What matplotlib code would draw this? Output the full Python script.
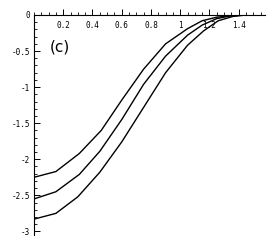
import matplotlib
matplotlib.use("Agg")
import matplotlib.pyplot as plt
from matplotlib.ticker import MultipleLocator, FixedLocator

# Data
x_top = [0, 0.15, 0.31, 0.46, 0.60, 0.75, 0.90, 1.05, 1.15, 1.25, 1.35, 1.45]
y_top = [-2.25, -2.17, -1.92, -1.60, -1.18, -0.75, -0.40, -0.19, -0.08, -0.03, -0.01, 0]
x_mid = [0, 0.15, 0.31, 0.45, 0.60, 0.75, 0.90, 1.05, 1.15, 1.25, 1.35, 1.45]
y_mid = [-2.55, -2.45, -2.21, -1.89, -1.45, -0.96, -0.57, -0.28, -0.14, -0.05, -0.01, 0]
x_bot = [0, 0.15, 0.30, 0.45, 0.60, 0.75, 0.90, 1.05, 1.16, 1.26, 1.36, 1.45]
y_bot = [-2.83, -2.75, -2.52, -2.18, -1.76, -1.28, -0.80, -0.42, -0.22, -0.08, -0.02, 0]

xticks = [0.2, 0.4, 0.6, 0.8, 1.0, 1.2, 1.4]
xticklabels = ["0.2", "0.4", "0.6", "0.8", "1", "1.2", "1.4"]
yticks = [0, -0.5, -1, -1.5, -2, -2.5, -3]
yticklabels = ["0", "-0.5", "-1", "-1.5", "-2", "-2.5", "-3"]

fig = plt.figure(figsize=(2.73, 2.40), dpi=100)
ax = fig.add_axes([34/273, 5/240, (265-34)/273, (235-15)/240])

for xs, ys in [(x_top, y_top), (x_mid, y_mid), (x_bot, y_bot)]:
    ax.plot(xs, ys, color="black", lw=1.0)

ax.set_xlim(0, 1.58)
ax.set_ylim(-3.05, 0)

ax.spines["top"].set_visible(False)
ax.spines["right"].set_visible(False)
ax.spines["bottom"].set_position(("data", 0))
ax.spines["left"].set_position(("data", 0))
for s in ("bottom", "left"):
    ax.spines[s].set_linewidth(0.8)

ax.xaxis.set_major_locator(FixedLocator(xticks))
ax.set_xticklabels(xticklabels)
ax.xaxis.set_minor_locator(MultipleLocator(0.05))
ax.yaxis.set_major_locator(FixedLocator(yticks))
ax.set_yticklabels(yticklabels)
ax.yaxis.set_minor_locator(MultipleLocator(0.1))

ax.tick_params(axis="x", which="major", direction="in", length=4, width=0.7,
               labelsize=5.5, pad=4)
ax.tick_params(axis="x", which="minor", direction="in", length=2, width=0.6)
ax.tick_params(axis="y", which="major", direction="in", length=4, width=0.7,
               labelsize=5.5, pad=3)
ax.tick_params(axis="y", which="minor", direction="in", length=2, width=0.6)
for lab in ax.get_xticklabels() + ax.get_yticklabels():
    lab.set_family("DejaVu Sans Mono")

ax.text(0.18, -0.45, "(c)", fontsize=11, ha="center", va="center")

fig.savefig("out.png", dpi=100)
